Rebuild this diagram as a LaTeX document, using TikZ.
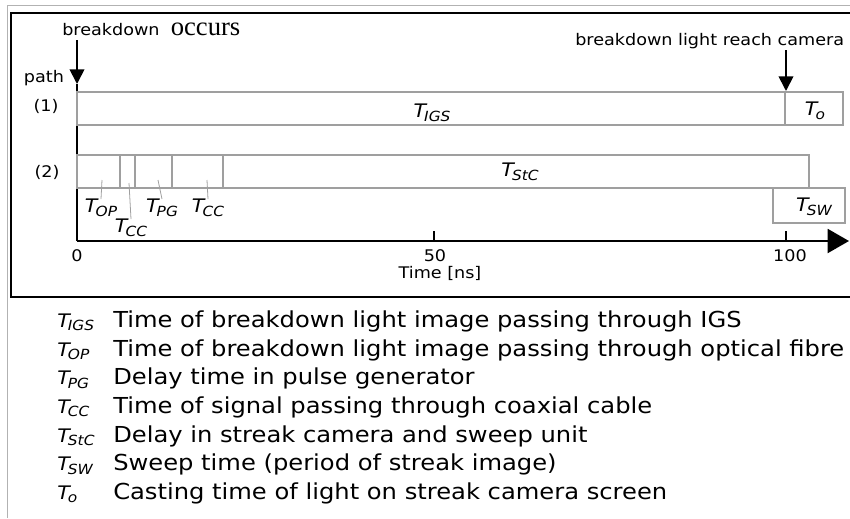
\documentclass[tikz,border=0pt]{standalone}
\usepackage{fontspec}
\setmainfont[FakeStretch=1.1]{DejaVu Sans}
\newfontfamily\occfont{Liberation Serif}
\usetikzlibrary{arrows.meta, positioning}

\newcommand{\lblsize}{\fontsize{12}{14}\selectfont}
\newcommand{\tsize}{\fontsize{14}{15}\selectfont}
\newcommand{\Tlab}[1]{{\tsize\textit{T\kern-0.1em\raisebox{-0.35ex}{\scalebox{0.75}{#1}}}}}

\begin{document}
\begin{tikzpicture}[x=0.75pt, y=-0.75pt, >={Triangle[length=11pt, width=11pt]}]
        % styles
        \tikzstyle{frame} = [line width=1.4pt]
        \tikzstyle{axis} = [line width=1.5pt]
        \tikzstyle{bar} = [draw=gray!75, line width=0.8pt]
        \tikzstyle{leader} = [draw=gray!75, line width=0.6pt]
        \tikzstyle{lbl} = [font=\lblsize, inner sep=0pt]
        \tikzstyle{legend} = [font=\fontsize{16.5}{21.5}\selectfont, inner sep=0pt, align=left]

        \useasboundingbox (0,0) rectangle (850,518);

        % frames
        \draw[gray!60, line width=0.6pt] (7,518) |- (850,5);
        \draw[frame] (852,13) -| (11,297) -- (852,297);

        % time axis
        \coordinate (origin) at (77,241);
        \coordinate (ytop) at (77,84);
        \coordinate (xend) at (849,241);
        \draw[axis] (ytop) -- (origin);
        \draw[axis, -{Triangle[length=16pt, width=18pt]}] (origin) -- (xend);
        \coordinate (t50) at (434,241);
        \coordinate (t100) at (786,241);
        \draw[line width=1pt] (t50) -- ++(0,-10);
        \draw[line width=1pt] (t100) -- ++(0,-10);
        \node[lbl] (n0) at (77,256) {0};
        \node[lbl] (n50) at (435,256) {50};
        \node[lbl] (n100) at (790,256) {100};
        \node[lbl] (xlabel) at (440,273) {Time [ns]};

        % events
        \node[lbl, anchor=base west] (bdocc) at (62,35) {breakdown\ \ {\occfont\fontsize{20}{22}\selectfont occurs}};
        \node[lbl, anchor=base west] (bdcam) at (575,45) {breakdown light reach camera};
        \coordinate (bd0) at (77,40);
        \coordinate (cam0) at (786,50);
        \coordinate (cam1) at (786,91);
        \draw[line width=1.3pt, ->] (bd0) -- (ytop);
        \draw[line width=1.3pt, ->] (cam0) -- (cam1);

        % path labels
        \node[lbl] (path) at (44,78) {path};
        \node[lbl] (p1) at (46,106) {(1)};
        \node[lbl] (p2) at (47,172) {(2)};

        % path (1)
        \draw[bar] (77,92) rectangle (843,125);
        \draw[bar] (785,92) -- (785,125);
        \node[lbl] (tigs) at (432,113) {\Tlab{IGS}};
        \node[lbl] (to) at (815,111) {\Tlab{o}};

        % path (2)
        \draw[bar] (77,155) rectangle (809,188);
        \draw[bar] (120,155) -- (120,188);
        \draw[bar] (135,155) -- (135,188);
        \draw[bar] (172,155) -- (172,188);
        \draw[bar] (223,155) -- (223,188);
        \draw[bar] (773,188) rectangle (845,223);
        \node[lbl] (tstc) at (520,172) {\Tlab{StC}};
        \node[lbl] (tsw) at (814,207) {\Tlab{SW}};

        % small delays
        \node[lbl] (top) at (101,208) {\Tlab{OP}};
        \node[lbl] (tcca) at (131,228) {\Tlab{CC}};
        \node[lbl] (tpg) at (162,208) {\Tlab{PG}};
        \node[lbl] (tccb) at (208,208) {\Tlab{CC}};
        \coordinate (op0) at (102,180);
        \coordinate (cca0) at (129,183);
        \coordinate (pg0) at (158,180);
        \coordinate (ccb0) at (207,180);
        \draw[leader] (op0) -- (top.north);
        \draw[leader] (cca0) -- (tcca.north);
        \draw[leader] (pg0) -- (tpg.north);
        \draw[leader] (ccb0) -- (tccb.north);

        % legend
        \node[legend, anchor=north west] (legend) at (57,307) {%
            \begin{tabular}{@{}p{42pt}@{}l@{}}
                \Tlab{IGS} & Time of breakdown light image passing through IGS\\
                \Tlab{OP}  & Time of breakdown light image passing through optical fibre\\
                \Tlab{PG}  & Delay time in pulse generator\\
                \Tlab{CC}  & Time of signal passing through coaxial cable\\
                \Tlab{StC} & Delay in streak camera and sweep unit\\
                \Tlab{SW}  & Sweep time (period of streak image)\\
                \Tlab{o}   & Casting time of light on streak camera screen
            \end{tabular}};
    \end{tikzpicture}
\end{document}
